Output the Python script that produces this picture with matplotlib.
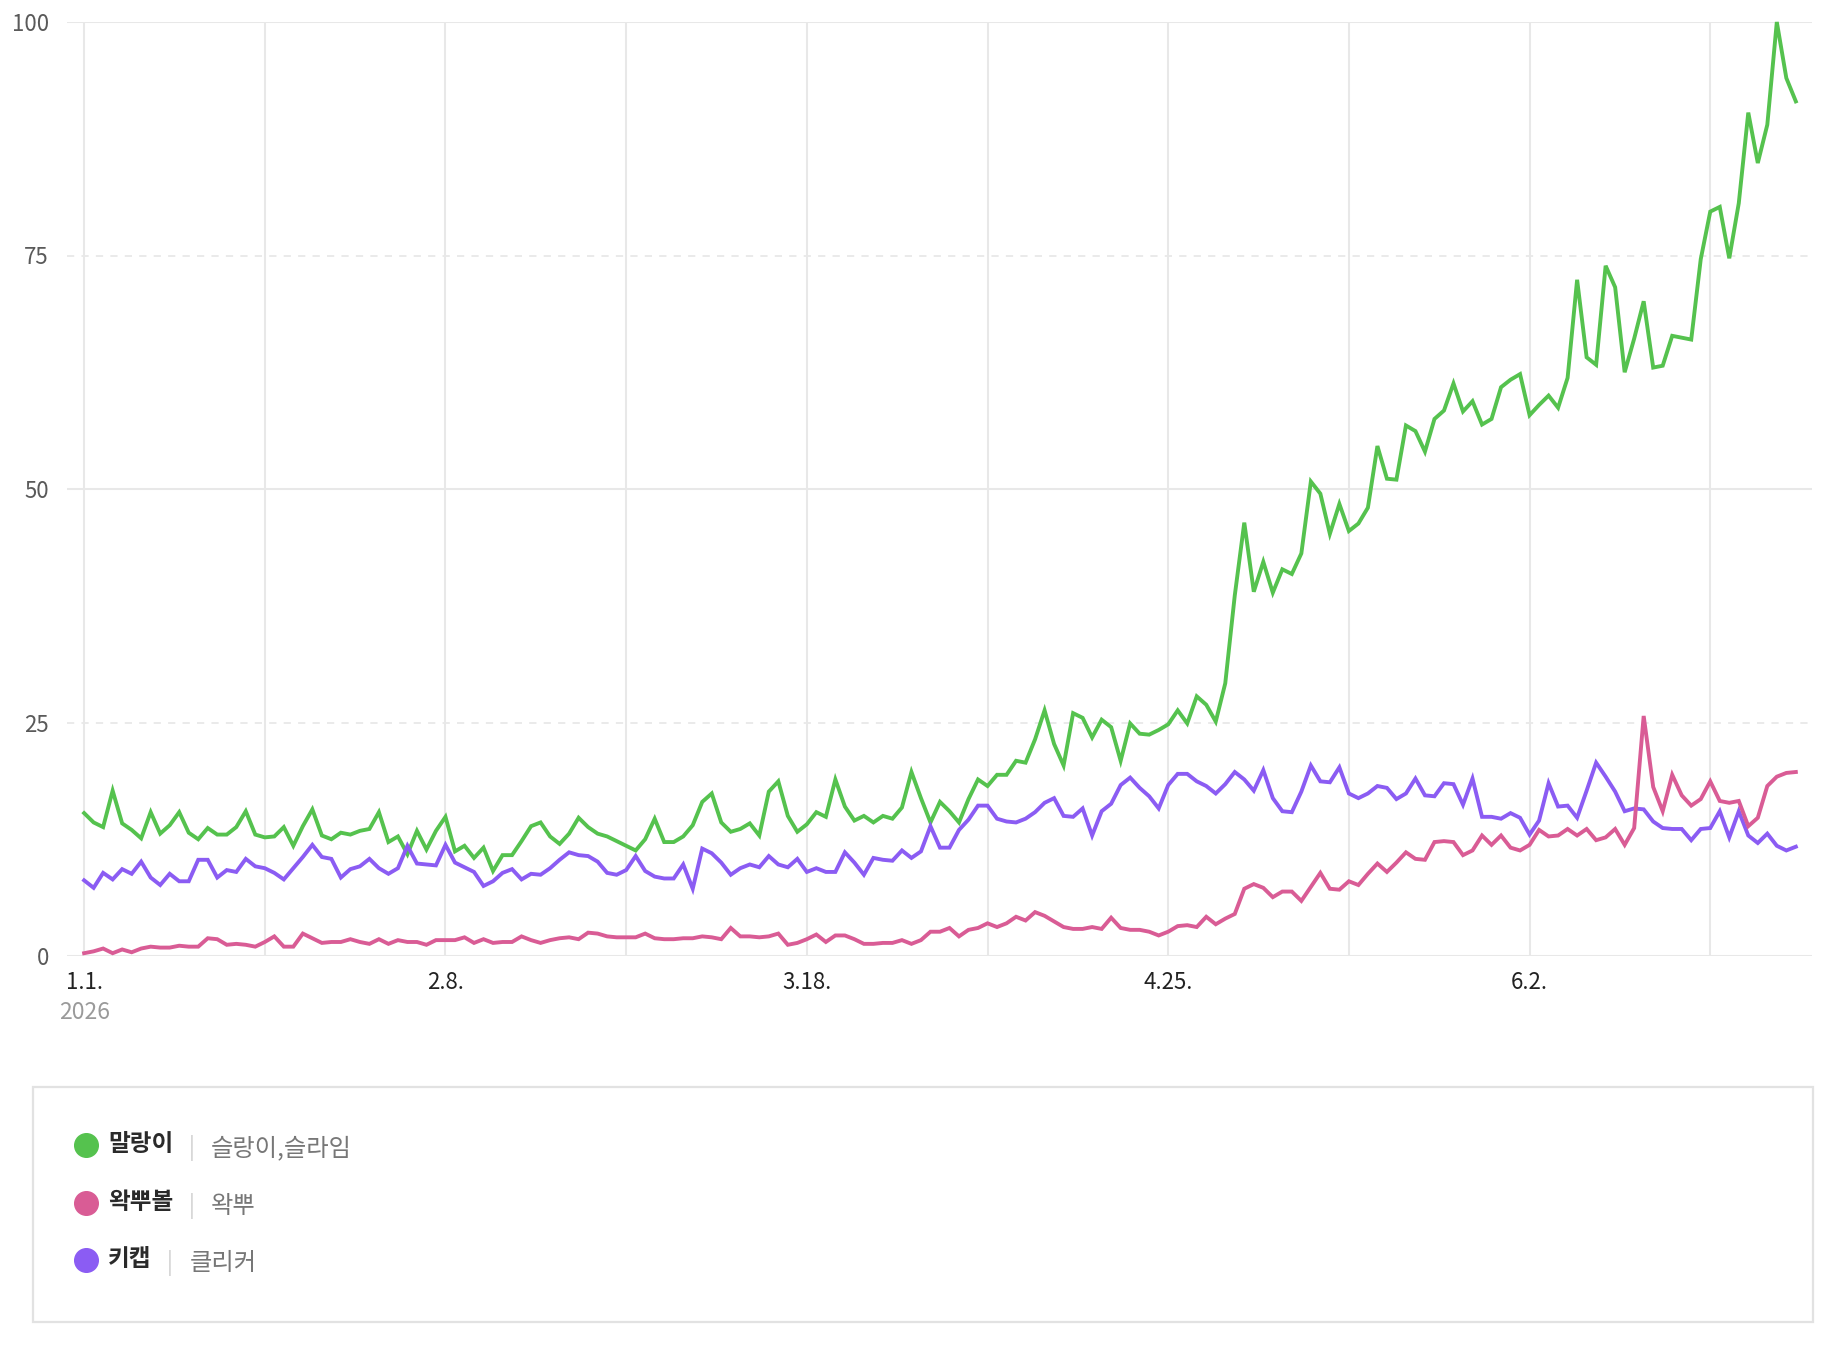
import numpy as np
import pandas as pd
import matplotlib
matplotlib.use("Agg")
import matplotlib.pyplot as plt
import matplotlib.transforms as mtransforms
from matplotlib.lines import Line2D
from matplotlib.patches import Rectangle

plt.rcParams['font.family'] = ['Noto Sans CJK KR', 'DejaVu Sans']

# ---------------- data ----------------
start_date = "2026-01-01"
series_names = ["말랑이", "왁뿌볼", "키캡"]
series_aliases = ["슬랑이,슬라임", "왁뿌", "클리커"]

malang = [
    15.3, 14.3, 13.8, 17.7, 14.2, 13.5, 12.6, 15.4, 13.1, 14.0,
    15.4, 13.2, 12.5, 13.7, 13.0, 13.0, 13.8, 15.5, 13.0, 12.7,
    12.8, 13.8, 11.8, 13.9, 15.7, 12.9, 12.5, 13.2, 13.0, 13.4,
    13.6, 15.4, 12.2, 12.8, 10.9, 13.4, 11.4, 13.4, 14.9, 11.2,
    11.8, 10.5, 11.6, 9.1, 10.8, 10.8, 12.3, 13.9, 14.3, 12.8,
    12.0, 13.1, 14.8, 13.8, 13.1, 12.8, 12.3, 11.8, 11.3, 12.5,
    14.7, 12.2, 12.2, 12.8, 14.0, 16.5, 17.4, 14.3, 13.3, 13.6,
    14.2, 12.9, 17.6, 18.7, 15.0, 13.3, 14.1, 15.4, 14.9, 18.9,
    16.0, 14.5, 15.0, 14.3, 15.0, 14.7, 15.9, 19.7, 16.9, 14.3,
    16.5, 15.5, 14.3, 16.8, 18.9, 18.2, 19.4, 19.4, 20.9, 20.7,
    23.2, 26.3, 22.7, 20.4, 26.0, 25.5, 23.4, 25.3, 24.5, 20.9,
    24.9, 23.8, 23.7, 24.2, 24.8, 26.3, 24.9, 27.8, 26.9, 25.1,
    29.2, 38.6, 46.4, 39.0, 42.2, 38.9, 41.4, 40.9, 43.1, 50.8,
    49.5, 45.2, 48.4, 45.5, 46.3, 48.0, 54.6, 51.1, 51.0, 56.8,
    56.2, 54.0, 57.5, 58.4, 61.3, 58.3, 59.4, 56.9, 57.5, 60.9,
    61.7, 62.3, 57.9, 59.0, 60.0, 58.7, 61.9, 72.4, 64.1, 63.3,
    73.9, 71.6, 62.5, 66.1, 70.1, 63.0, 63.2, 66.4, 66.2, 66.0,
    74.6, 79.7, 80.2, 74.7, 80.6, 90.3, 84.9, 89.0, 100.0, 94.0,
    91.5,
]

wakppu = [
    0.3, 0.5, 0.8, 0.3, 0.7, 0.4, 0.8, 1.0, 0.9, 0.9,
    1.1, 1.0, 1.0, 1.9, 1.8, 1.2, 1.3, 1.2, 1.0, 1.5,
    2.1, 1.0, 1.0, 2.4, 1.9, 1.4, 1.5, 1.5, 1.8, 1.5,
    1.3, 1.8, 1.3, 1.7, 1.5, 1.5, 1.2, 1.7, 1.7, 1.7,
    2.0, 1.4, 1.8, 1.4, 1.5, 1.5, 2.1, 1.7, 1.4, 1.7,
    1.9, 2.0, 1.8, 2.5, 2.4, 2.1, 2.0, 2.0, 2.0, 2.4,
    1.9, 1.8, 1.8, 1.9, 1.9, 2.1, 2.0, 1.8, 3.0, 2.1,
    2.1, 2.0, 2.1, 2.4, 1.2, 1.4, 1.8, 2.3, 1.5, 2.2,
    2.2, 1.8, 1.3, 1.3, 1.4, 1.4, 1.7, 1.3, 1.7, 2.6,
    2.6, 3.0, 2.1, 2.8, 3.0, 3.5, 3.1, 3.5, 4.2, 3.8,
    4.7, 4.3, 3.7, 3.1, 2.9, 2.9, 3.1, 2.9, 4.1, 3.0,
    2.8, 2.8, 2.6, 2.2, 2.6, 3.2, 3.3, 3.1, 4.2, 3.4,
    4.0, 4.5, 7.2, 7.7, 7.3, 6.3, 6.9, 6.9, 5.9, 7.4,
    8.9, 7.2, 7.1, 8.0, 7.6, 8.8, 9.9, 9.0, 10.0, 11.1,
    10.4, 10.3, 12.2, 12.3, 12.2, 10.8, 11.3, 12.9, 11.9, 12.9,
    11.6, 11.3, 11.9, 13.5, 12.8, 12.9, 13.6, 12.9, 13.6, 12.4,
    12.7, 13.6, 11.9, 13.7, 25.7, 18.1, 15.5, 19.4, 17.2, 16.1,
    16.8, 18.7, 16.6, 16.4, 16.6, 13.9, 14.8, 18.2, 19.2, 19.6,
    19.7,
]

keycap = [
    8.1, 7.3, 8.9, 8.2, 9.3, 8.8, 10.1, 8.4, 7.6, 8.8,
    8.0, 8.0, 10.3, 10.3, 8.4, 9.2, 9.0, 10.4, 9.6, 9.4,
    8.9, 8.2, 9.4, 10.6, 11.9, 10.6, 10.4, 8.4, 9.3, 9.6,
    10.4, 9.4, 8.8, 9.4, 11.8, 9.9, 9.8, 9.7, 11.9, 10.0,
    9.5, 9.0, 7.5, 8.0, 8.9, 9.3, 8.2, 8.8, 8.7, 9.4,
    10.3, 11.1, 10.8, 10.7, 10.1, 8.9, 8.7, 9.2, 10.7, 9.1,
    8.5, 8.3, 8.3, 9.8, 7.2, 11.5, 11.0, 10.0, 8.7, 9.4,
    9.8, 9.5, 10.7, 9.8, 9.5, 10.4, 9.0, 9.4, 9.0, 9.0,
    11.1, 10.0, 8.7, 10.5, 10.3, 10.2, 11.3, 10.5, 11.2, 13.9,
    11.6, 11.6, 13.5, 14.6, 16.1, 16.1, 14.7, 14.4, 14.3, 14.7,
    15.4, 16.4, 16.9, 15.0, 14.9, 15.8, 12.9, 15.5, 16.3, 18.3,
    19.1, 18.0, 17.1, 15.8, 18.3, 19.5, 19.5, 18.7, 18.2, 17.4,
    18.4, 19.7, 18.9, 17.7, 19.9, 16.9, 15.5, 15.4, 17.6, 20.4,
    18.7, 18.6, 20.2, 17.4, 16.9, 17.4, 18.2, 18.0, 16.8, 17.4,
    19.0, 17.2, 17.1, 18.5, 18.4, 16.2, 19.0, 14.9, 14.9, 14.7,
    15.3, 14.8, 13.0, 14.5, 18.5, 16.0, 16.1, 14.8, 17.7, 20.7,
    19.2, 17.6, 15.5, 15.8, 15.7, 14.4, 13.7, 13.6, 13.6, 12.4,
    13.6, 13.7, 15.5, 12.7, 15.5, 12.9, 12.1, 13.1, 11.8, 11.3,
    11.7,
]

y_ticks = [0, 25, 50, 75, 100]
y_tick_labels = ["0", "25", "50", "75", "100"]
x_tick_labels = ["1.1.", "2.8.", "3.18.", "4.25.", "6.2."]
year_label = "2026"
grid_step_days = 19
label_step_days = 38

colors = ["#55c24e", "#d95c95", "#8b5cf3"]

# ---------------- figure ----------------
W, H = 1846, 1346
fig = plt.figure(figsize=(W / 100, H / 100), dpi=100)
fig.patch.set_facecolor("white")

ax_l, ax_r, ax_t, ax_b = 67, 1812, 22, 956
ax = fig.add_axes([ax_l / W, 1 - ax_b / H, (ax_r - ax_l) / W, (ax_b - ax_t) / H])

n = len(malang)
dates = pd.date_range(start_date, periods=n, freq="D")
d0 = dates[0]

ax.set_xlim(d0 - pd.Timedelta(days=1.8), d0 + pd.Timedelta(days=181.7))
ax.set_ylim(0, 100)

grid_c = "#e8e8e8"
for k in range(0, n, grid_step_days):
    ax.axvline(d0 + pd.Timedelta(days=k), color=grid_c, lw=1.5, zorder=0)
for v in y_ticks:
    if v in (25, 75):
        ax.axhline(v, color=grid_c, lw=1.3, ls=(0, (4, 4)), zorder=0)
    else:
        ax.axhline(v, color=grid_c, lw=1.5, zorder=0)

for s in ax.spines.values():
    s.set_visible(False)

order = [(malang, colors[0]), (keycap, colors[2]), (wakppu, colors[1])]
for vals, c in order:
    ax.plot(dates[:len(vals)], vals, color=c, lw=2.8, solid_joinstyle="miter",
            zorder=3, clip_on=False)

ax.set_yticks(y_ticks)
ax.set_yticklabels(y_tick_labels)
ax.tick_params(axis="y", length=0, pad=13, labelsize=16, labelcolor="#5a5a5a")

xt = [d0 + pd.Timedelta(days=k) for k in range(0, n, label_step_days)]
ax.set_xticks(xt[:len(x_tick_labels)])
ax.set_xticklabels(x_tick_labels)
ax.tick_params(axis="x", length=0, pad=11, labelsize=16, labelcolor="#222222")

trans = mtransforms.blended_transform_factory(ax.transData, ax.transAxes)
ax.text(d0, -0.061, year_label, transform=trans, ha="center", va="center",
        fontsize=16.5, color="#9a9a9a")

# ---------------- legend box ----------------
bx0, by0, bx1, by1 = 33, 1087, 1813, 1322
fig.add_artist(Rectangle((bx0 / W, 1 - by1 / H), (bx1 - bx0) / W, (by1 - by0) / H,
                         transform=fig.transFigure, facecolor="white",
                         edgecolor="#e2e2e2", lw=1.6))

row_y = [1144, 1202, 1259]
circle_x = 86
name_x = 108
fig.canvas.draw()
renderer = fig.canvas.get_renderer()
for i, (nm, al) in enumerate(zip(series_names, series_aliases)):
    yf = 1 - row_y[i] / H
    fig.add_artist(Line2D([circle_x / W], [yf - 1 / H], marker="o", ms=17,
                          color=colors[i], mec=colors[i], ls="none",
                          transform=fig.transFigure))
    t = fig.text(name_x / W, yf, nm, ha="left", va="center", fontsize=17,
                 fontweight="bold", color="#2a2a2a")
    bb = t.get_window_extent(renderer=renderer)
    sep_x = bb.x1 + 18
    fig.text(sep_x / W, yf - 4 / H, "|", ha="center", va="center", fontsize=16,
             color="#cccccc")
    fig.text((sep_x + 20) / W, yf - 4 / H, al, ha="left", va="center",
             fontsize=17.5, color="#777777")

fig.savefig("out.png", dpi=100, facecolor="white")
